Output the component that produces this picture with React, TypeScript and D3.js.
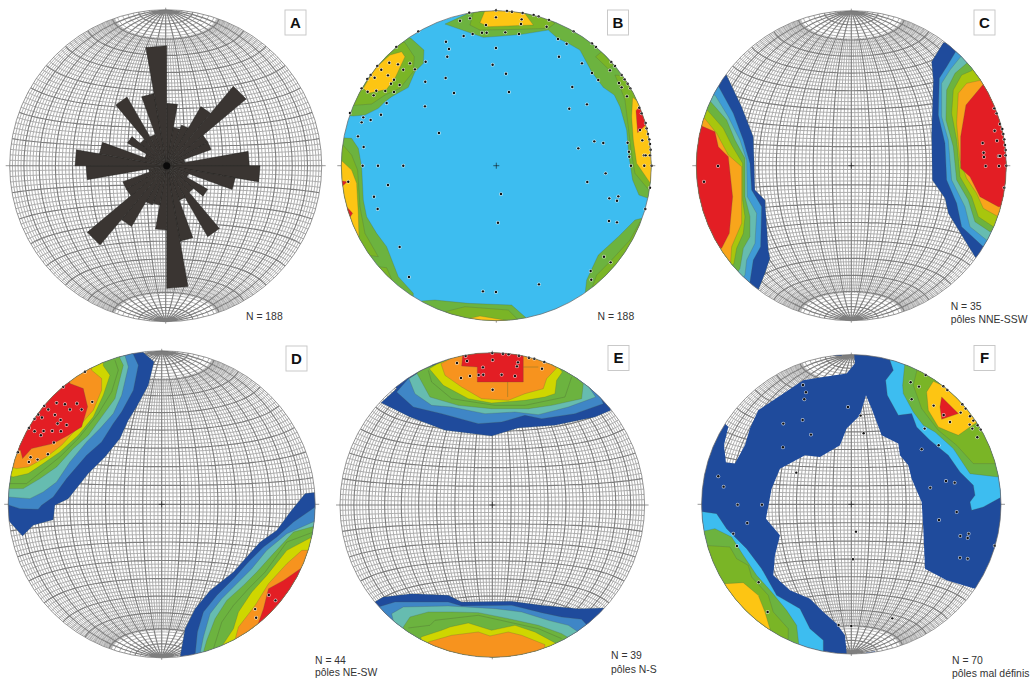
import React from "react";
import * as d3 from "d3";

type P = [number, number];

const SKY = "#3dbdf0", NAVY = "#1f4b9c", BLUE_C = "#3f9bd6", BLUE_D = "#3f86c6", TEAL = "#66bcb0";
const GREEN = "#6cb33f", LIME_B = "#7ab526", YGREEN_C = "#a8c60d", YGREEN_D = "#cfd600", ORANGE_C = "#f8a51b", ORANGE_D = "#f7931e", YELLOW = "#fdc513", RED = "#e31e24";

const roseLengths = [187,116,130,205,311,142,142,55,248,280,209,70,142,105,246,110,230,368,193,120,125,211,311,140,140,55,242,275,205,70,136,104,238,100,220,360];

const bGreenTop: P[] = [[395,25],[395,42],[330,72],[410,100],[445,112],[500,108],[560,103],[640,90],[668,115],[700,130],[735,150],[770,215],[805,262],[838,285],[855,320],[875,390],[882,470],[893,540],[912,585],[940,595],[1000,600],[1000,300],[800,80],[560,10]];
const bLimeNE: P[] = [[782,170],[800,155],[835,195],[820,207]];
const bLimeE: P[] = [[840,225],[858,268],[870,300],[880,380],[888,450],[900,520],[940,568],[990,570],[990,300],[900,230]];
const bYellowE: P[] = [[893,292],[890,350],[895,420],[905,490],[945,548],[990,540],[990,380],[930,320]];
const bRedE: P[] = [[903,332],[915,318],[935,372],[908,398]];
const bLimeTop: P[] = [[420,20],[405,75],[435,90],[550,88],[640,85],[660,70],[590,20]];
const bYellowTop: P[] = [[455,20],[435,68],[460,80],[595,75],[555,20]];
const bGreenNW: P[] = [[20,345],[55,348],[90,345],[130,325],[150,305],[170,290],[220,262],[240,215],[265,190],[267,150],[228,115],[190,100],[0,280]];
const bLimeNW: P[] = [[30,318],[110,312],[150,285],[195,265],[235,215],[238,170],[210,128],[170,110],[20,280]];
const bYellowNW: P[] = [[85,265],[100,280],[155,268],[180,235],[210,170],[200,155],[165,165],[120,205]];
const bGreenW: P[] = [[0,412],[50,415],[70,445],[80,500],[85,600],[95,650],[125,700],[155,740],[190,830],[235,880],[235,900],[100,900],[0,700]];
const bLimeW: P[] = [[0,430],[20,430],[50,465],[68,510],[75,620],[90,700],[130,770],[60,760],[0,700]];
const bLimeSW: P[] = [[130,800],[155,803],[172,842],[110,850]];
const bYellowW: P[] = [[0,480],[18,480],[50,510],[65,550],[70,640],[72,710],[0,720]];
const bRedW1: P[] = [[0,540],[37,545],[18,562],[0,560]];
const bRedW2: P[] = [[35,620],[53,640],[45,652]];
const bGreenSE: P[] = [[750,885],[755,840],[790,765],[850,710],[900,660],[920,655],[1000,660],[1000,1000],[800,920]];
const bLimeSE: P[] = [[763,885],[785,825],[825,785],[885,720],[915,665],[960,670],[960,960],[800,960]];
const bGreenS: P[] = [[260,903],[300,900],[400,910],[530,915],[575,955],[500,1010],[350,1010]];
const bLimeS: P[] = [[330,935],[390,920],[520,930],[550,960],[400,1010]];
const bYellowS: P[] = [[405,955],[435,948],[520,962],[500,1010],[420,1010]];
const bPoles: P[] = [[483,31],[516,33],[531,35],[563,39],[596,45],[611,49],[642,60],[716,94],[771,130],[783,141],[829,186],[840,198],[860,225],[869,238],[878,251],[886,265],[913,323],[920,340],[932,369],[935,385],[939,402],[943,418],[945,432],[947,449],[945,466],[950,497],[945,563],[931,627],[403,38],[405,55],[375,62],[483,52],[453,75],[560,58],[558,72],[635,80],[413,102],[441,98],[455,98],[511,97],[552,102],[386,108],[669,117],[695,131],[333,125],[342,147],[337,170],[483,144],[473,194],[513,221],[522,276],[332,234],[357,279],[272,185],[240,208],[225,190],[271,245],[270,319],[312,399],[250,94],[184,141],[163,188],[189,193],[205,209],[127,198],[139,209],[107,225],[97,237],[119,233],[159,226],[177,239],[168,251],[194,255],[80,265],[98,275],[124,272],[151,273],[177,276],[116,286],[155,309],[45,339],[85,352],[107,360],[80,367],[138,344],[69,409],[86,441],[83,497],[129,497],[205,497],[40,545],[159,555],[117,590],[128,627],[194,741],[222,831],[444,874],[483,876],[612,853],[498,582],[489,668],[672,170],[741,190],[771,219],[825,211],[790,240],[712,261],[703,326],[756,313],[852,249],[860,262],[876,289],[778,424],[805,429],[730,445],[878,428],[882,455],[883,470],[888,497],[922,421],[927,466],[932,466],[928,497],[915,390],[812,520],[757,546],[850,589],[823,595],[846,602],[822,663],[846,667],[807,770],[827,787],[767,813],[769,839]];

const cNavyE: P[] = [[760,128],[725,185],[730,240],[725,400],[727,540],[765,595],[775,640],[830,730],[860,778],[1000,650],[1000,300],[860,100]];
const cBlueE: P[] = [[797,155],[770,200],[748,235],[745,345],[765,430],[770,540],[800,610],[815,680],[885,745],[1000,650],[1000,300],[860,120]];
const cTealE: P[] = [[812,170],[780,210],[755,250],[755,350],[775,420],[785,540],[825,620],[840,680],[890,720],[1000,650],[1000,300],[860,130]];
const cGreenE: P[] = [[830,190],[795,220],[770,270],[768,360],[790,440],[800,540],[835,600],[855,665],[900,695],[1000,650],[1000,300],[860,150]];
const cLimeE: P[] = [[845,212],[815,225],[790,270],[785,340],[800,420],[810,530],[845,590],[865,650],[910,680],[1000,650],[1000,300],[880,170]];
const cOrangeE: P[] = [[875,240],[830,250],[805,280],[800,370],[810,480],[830,535],[860,580],[880,625],[925,650],[1000,650],[1000,300],[900,200]];
const cRedE: P[] = [[878,255],[828,315],[812,410],[812,505],[840,530],[870,590],[925,620],[1000,620],[1000,300],[920,250]];
const cNavyW: P[] = [[108,222],[155,320],[190,410],[195,570],[225,600],[235,750],[240,775],[225,820],[205,870],[180,900],[0,700],[0,300],[80,200]];
const cBlueW: P[] = [[85,258],[130,340],[160,420],[180,490],[185,570],[215,620],[212,740],[190,780],[180,845],[160,880],[0,700],[0,300]];
const cTealW: P[] = [[75,285],[115,350],[150,420],[170,480],[172,590],[200,640],[195,730],[170,780],[165,825],[140,860],[0,700],[0,300]];
const cGreenW: P[] = [[62,305],[110,360],[135,420],[165,475],[165,590],[180,650],[180,710],[160,745],[150,805],[130,840],[0,700],[0,300]];
const cLimeW: P[] = [[52,330],[100,385],[125,435],[158,490],[158,600],[165,650],[160,700],[140,745],[132,790],[110,820],[0,700],[0,320]];
const cOrangeW: P[] = [[40,350],[80,400],[115,465],[155,500],[155,610],[155,670],[125,740],[122,785],[100,810],[0,700],[0,340]];
const cRedW: P[] = [[35,378],[75,395],[85,440],[115,470],[128,590],[118,700],[95,745],[60,730],[0,700],[0,380]];
const cPoles: P[] = [[913,325],[920,340],[930,372],[937,387],[940,402],[943,418],[945,435],[947,450],[947,466],[949,497],[943,563],[914,392],[921,422],[878,429],[881,458],[882,471],[887,498],[926,468],[930,468],[927,498],[84,498],[42,545]];

const dNavyNW: P[] = [[430,20],[430,32],[462,60],[445,130],[410,195],[385,235],[360,290],[315,345],[265,395],[205,470],[165,490],[160,533],[100,550],[68,582],[25,535],[-20,500],[-20,300],[180,60]];
const dBlueNW: P[] = [[400,20],[400,38],[415,70],[400,145],[365,210],[340,245],[305,300],[260,340],[200,410],[160,465],[125,490],[115,502],[60,500],[28,490],[-20,480],[-20,300],[180,60]];
const dTealNW: P[] = [[375,20],[375,42],[385,75],[365,160],[340,215],[300,260],[260,300],[210,360],[170,420],[130,450],[90,470],[25,465],[-20,465],[-20,300],[180,60]];
const dGreenNW: P[] = [[360,20],[360,50],[370,70],[345,170],[305,225],[265,280],[220,320],[170,375],[120,410],[70,440],[25,440],[-20,430],[-20,300],[180,60]];
const dYGreenNW: P[] = [[310,50],[310,72],[330,100],[310,160],[280,225],[235,280],[180,330],[130,365],[85,395],[40,405],[20,400],[-10,300],[180,60]];
const dOrangeNW: P[] = [[275,60],[275,85],[305,110],[305,145],[280,205],[240,250],[185,310],[140,345],[85,375],[50,380],[30,375],[-10,300],[180,80]];
const dRedNW: P[] = [[205,100],[210,125],[250,140],[263,195],[245,255],[205,280],[160,305],[95,320],[68,350],[62,325],[30,330],[30,200],[120,100]];
const dLineNW: P[] = [[345,55],[355,85],[335,150],[295,215],[235,290],[180,345],[130,385],[80,425],[28,425]];
const dNavySE: P[] = [[540,945],[555,860],[585,800],[630,745],[700,690],[735,650],[780,600],[830,565],[870,510],[915,455],[1000,445],[1000,700],[700,1000],[540,1000]];
const dBlueSE: P[] = [[585,940],[592,870],[610,810],[650,760],[700,710],[745,660],[790,615],[830,585],[880,540],[945,495],[1000,490],[1000,700],[700,1000],[590,1000]];
const dTealSE: P[] = [[600,935],[610,885],[630,815],[665,770],[715,720],[755,680],[800,625],[860,575],[945,537],[1000,530],[1000,700],[700,1000],[600,1000]];
const dGreenSE: P[] = [[610,930],[620,895],[645,830],[680,775],[730,730],[770,690],[815,640],[880,570],[945,552],[1000,550],[1000,700],[700,1000],[610,1000]];
const dYGreenSE: P[] = [[668,908],[700,860],[715,810],[755,750],[800,700],[860,625],[935,585],[1000,580],[1000,700],[700,1000]];
const dOrangeSE: P[] = [[705,892],[715,855],[765,790],[805,725],[860,665],[905,625],[930,625],[1000,620],[1000,700],[720,1000]];
const dRedSE: P[] = [[775,842],[790,800],[805,740],[850,715],[908,675],[1000,680],[800,900]];
const dLineSE: P[] = [[640,920],[665,840],[700,790],[745,740],[795,690],[860,600],[940,570]];
const dPoles: P[] = [[255,90],[190,135],[277,180],[170,183],[195,187],[231,185],[133,192],[145,203],[210,203],[245,203],[115,218],[165,219],[126,227],[104,231],[182,234],[173,245],[200,249],[87,258],[104,268],[131,267],[157,267],[183,268],[123,280],[162,302],[54,331],[144,337],[92,346],[113,353],[87,360],[806,759],[826,775],[765,801],[768,827]];

const eNavyN: P[] = [[185,140],[138,182],[225,225],[330,265],[470,282],[550,258],[660,250],[780,225],[828,205],[800,100],[470,0],[150,100]];
const eBlueN: P[] = [[220,110],[185,150],[235,195],[320,215],[430,245],[500,240],[570,220],[620,230],[720,215],[805,185],[770,100],[470,0]];
const eTealN: P[] = [[245,95],[222,110],[240,155],[290,190],[350,195],[450,215],[540,210],[610,218],[700,195],[782,165],[745,110],[470,0]];
const eGreenN: P[] = [[265,82],[245,92],[285,165],[370,190],[470,200],[580,200],[650,190],[740,170],[745,125],[680,70],[470,0]];
const eYGreenN: P[] = [[305,67],[283,80],[325,130],[400,170],[470,183],[570,175],[630,165],[660,155],[665,115],[682,90],[650,50],[470,0]];
const eOrangeN: P[] = [[385,30],[318,65],[330,100],[380,135],[440,170],[520,175],[570,155],[625,140],[635,110],[665,78],[600,30],[470,0]];
const eRedN: P[] = [[385,20],[380,72],[427,75],[427,120],[565,120],[565,20]];
const eLineN: P[] = [[280,85],[290,120],[350,170],[480,190],[570,190],[690,165],[710,105]];
const eTickA: P[] = [[518,120],[518,165]];
const eTickB: P[] = [[565,75],[610,75]];
const eNavyS: P[] = [[145,765],[110,785],[200,960],[470,1020],[760,960],[850,800],[808,798],[730,800],[620,790],[530,778],[380,780],[340,760],[230,755]];
const eBlueS: P[] = [[130,795],[180,780],[340,780],[380,792],[530,790],[620,812],[680,825],[740,832],[755,848],[720,900],[470,1010],[200,940]];
const eTealS: P[] = [[170,815],[205,795],[340,792],[480,800],[560,810],[640,835],[700,850],[730,870],[715,900],[470,1010],[200,940]];
const eGreenS: P[] = [[205,855],[225,825],[280,810],[350,810],[430,812],[520,830],[610,850],[680,875],[705,890],[470,1010],[210,900]];
const eLineS: P[] = [[220,858],[285,850],[300,835],[430,820],[520,840],[610,860],[680,890]];
const eYGreenS: P[] = [[258,885],[320,865],[345,855],[400,843],[470,865],[540,850],[600,870],[665,905],[470,1010],[260,920]];
const eOrangeS: P[] = [[280,900],[350,880],[430,870],[465,882],[520,870],[560,880],[630,908],[628,925],[470,1010],[300,950]];
const ePoles: P[] = [[392,42],[472,33],[504,35],[521,37],[552,41],[582,47],[598,50],[628,60],[396,57],[366,63],[473,54],[549,61],[546,73],[621,80],[444,76],[378,108],[405,102],[431,99],[445,98],[500,98],[540,102],[473,143]];

const fFrame: P[] = [[-40,-40],[1060,-40],[1060,1060],[-40,1060]];
const fHoleCentre: P[] = [[528,160],[545,200],[575,280],[625,305],[630,340],[655,370],[665,410],[695,480],[700,560],[705,680],[770,715],[855,740],[880,800],[700,950],[560,950],[555,928],[525,933],[510,960],[465,960],[470,935],[465,880],[440,845],[400,810],[360,770],[300,745],[250,700],[255,640],[270,580],[228,530],[245,440],[270,380],[345,340],[390,345],[450,310],[470,260],[510,220]];
const fHoleNorth: P[] = [[492,30],[495,65],[470,95],[400,105],[340,115],[250,175],[205,205],[180,260],[165,310],[135,365],[108,362],[102,310],[115,255],[105,245],[90,230],[250,95],[350,45],[425,30],[430,42],[455,42],[457,30]];
const fSkyNE: P[] = [[598,50],[610,85],[587,115],[592,160],[625,220],[665,215],[680,255],[720,295],[775,340],[810,390],[850,430],[855,460],[840,480],[845,505],[880,495],[935,465],[1000,450],[1000,200],[700,20]];
const fGreenNE: P[] = [[645,60],[638,130],[640,155],[670,210],[700,250],[735,270],[790,320],[840,395],[925,405],[1000,300],[700,20]];
const fLimeNE: P[] = [[682,80],[670,130],[695,200],[745,265],[800,310],[850,365],[915,365],[1000,300],[730,30]];
const fYellowNE: P[] = [[730,118],[710,150],[715,205],[745,255],[775,268],[805,280],[840,255],[870,235],[800,150]];
const fRedNE: P[] = [[755,165],[805,215],[755,232],[750,195]];
const fSkySW: P[] = [[20,507],[80,515],[110,560],[170,620],[215,680],[260,760],[330,800],[360,860],[400,895],[400,960],[100,860],[0,600]];
const fGreenSW: P[] = [[30,570],[75,560],[125,585],[160,640],[200,700],[245,750],[290,805],[320,850],[328,920],[100,860],[0,600]];
const fLimeSW: P[] = [[40,610],[120,615],[140,650],[175,670],[185,705],[235,760],[250,810],[295,860],[295,910],[100,860],[20,640]];
const fYellowSW: P[] = [[105,725],[160,722],[205,760],[225,810],[240,860],[235,900],[60,800]];
const fPoles: P[] = [[339,129],[348,151],[343,172],[474,195],[512,221],[521,274],[280,245],[338,234],[363,278],[279,316],[319,392],[85,403],[101,434],[143,488],[216,488],[172,543],[130,575],[141,612],[206,721],[233,810],[446,849],[484,852],[607,829],[498,569],[489,652],[707,99],[662,121],[687,134],[760,133],[772,144],[665,172],[731,191],[817,187],[827,200],[761,219],[812,212],[840,223],[850,236],[839,248],[863,250],[872,263],[847,260],[862,286],[780,240],[704,260],[746,310],[695,322],[768,417],[794,422],[721,437],[800,510],[747,534],[836,575],[811,582],[833,588],[914,611],[810,647],[833,650]];

type Layer = { fill: string; pts: P[] };
type Panel = {
  id: string; cx: number; cy: number; r: number; dx: number; dy: number; dr: number;
  box: P; grid: boolean; base?: string; layers: Layer[]; lines: P[][]; poles: P[];
  navyPaths?: P[][]; notes: { x: number; y: number; text: string }[];
};

const panels: Panel[] = [
  { id: "A", cx: 165.7, cy: 165.7, r: 156, dx: 497, dy: 497, dr: 468, box: [285, 10], grid: true, layers: [], lines: [], poles: [],
    notes: [{ x: 246, y: 320, text: "N = 188" }] },
  { id: "B", cx: 496.3, cy: 165.7, r: 155, dx: 484, dy: 497, dr: 465, box: [607.5, 10], grid: false, base: SKY, poles: bPoles, lines: [],
    layers: [
      { fill: GREEN, pts: bGreenTop }, { fill: LIME_B, pts: bLimeNE }, { fill: LIME_B, pts: bLimeE }, { fill: YELLOW, pts: bYellowE }, { fill: RED, pts: bRedE },
      { fill: LIME_B, pts: bLimeTop }, { fill: YELLOW, pts: bYellowTop },
      { fill: GREEN, pts: bGreenNW }, { fill: LIME_B, pts: bLimeNW }, { fill: YELLOW, pts: bYellowNW },
      { fill: GREEN, pts: bGreenW }, { fill: LIME_B, pts: bLimeW }, { fill: LIME_B, pts: bLimeSW }, { fill: YELLOW, pts: bYellowW }, { fill: RED, pts: bRedW1 }, { fill: RED, pts: bRedW2 },
      { fill: GREEN, pts: bGreenSE }, { fill: LIME_B, pts: bLimeSE },
      { fill: GREEN, pts: bGreenS }, { fill: LIME_B, pts: bLimeS }, { fill: YELLOW, pts: bYellowS },
    ], notes: [{ x: 597.5, y: 320, text: "N = 188" }] },
  { id: "C", cx: 851.3, cy: 165.7, r: 155, dx: 484, dy: 497, dr: 465, box: [974, 10], grid: true, poles: cPoles, lines: [],
    layers: [
      { fill: NAVY, pts: cNavyE }, { fill: BLUE_C, pts: cBlueE }, { fill: TEAL, pts: cTealE }, { fill: GREEN, pts: cGreenE }, { fill: YGREEN_C, pts: cLimeE }, { fill: ORANGE_C, pts: cOrangeE }, { fill: RED, pts: cRedE },
      { fill: NAVY, pts: cNavyW }, { fill: BLUE_C, pts: cBlueW }, { fill: TEAL, pts: cTealW }, { fill: GREEN, pts: cGreenW }, { fill: YGREEN_C, pts: cLimeW }, { fill: ORANGE_C, pts: cOrangeW }, { fill: RED, pts: cRedW },
    ], notes: [{ x: 950.7, y: 310, text: "N = 35" }, { x: 950.7, y: 323, text: "pôles NNE-SSW" }] },
  { id: "D", cx: 161.7, cy: 504.3, r: 153.5, dx: 485, dy: 487, dr: 460, box: [286, 346], grid: true, poles: dPoles, lines: [dLineNW, dLineSE],
    layers: [
      { fill: NAVY, pts: dNavyNW }, { fill: BLUE_D, pts: dBlueNW }, { fill: TEAL, pts: dTealNW }, { fill: GREEN, pts: dGreenNW }, { fill: YGREEN_D, pts: dYGreenNW }, { fill: ORANGE_D, pts: dOrangeNW }, { fill: RED, pts: dRedNW },
      { fill: NAVY, pts: dNavySE }, { fill: BLUE_D, pts: dBlueSE }, { fill: TEAL, pts: dTealSE }, { fill: GREEN, pts: dGreenSE }, { fill: YGREEN_D, pts: dYGreenSE }, { fill: ORANGE_D, pts: dOrangeSE }, { fill: RED, pts: dRedSE },
    ], notes: [{ x: 315, y: 664, text: "N = 44" }, { x: 315, y: 676, text: "pôles NE-SW" }] },
  { id: "E", cx: 492.3, cy: 505, r: 152.3, dx: 472, dy: 489, dr: 457, box: [608, 345.5], grid: true, poles: ePoles, lines: [eLineN, eLineS, eTickA, eTickB],
    layers: [
      { fill: NAVY, pts: eNavyN }, { fill: BLUE_D, pts: eBlueN }, { fill: TEAL, pts: eTealN }, { fill: GREEN, pts: eGreenN }, { fill: YGREEN_D, pts: eYGreenN }, { fill: ORANGE_D, pts: eOrangeN }, { fill: RED, pts: eRedN },
      { fill: NAVY, pts: eNavyS }, { fill: BLUE_D, pts: eBlueS }, { fill: TEAL, pts: eTealS }, { fill: GREEN, pts: eGreenS }, { fill: YGREEN_D, pts: eYGreenS }, { fill: ORANGE_D, pts: eOrangeS },
    ], notes: [{ x: 611, y: 659, text: "N = 39" }, { x: 611, y: 673, text: "pôles N-S" }] },
  { id: "F", cx: 851.3, cy: 504.3, r: 149.7, dx: 484, dy: 487, dr: 449, box: [974, 345.5], grid: true, poles: fPoles, lines: [],
    navyPaths: [fFrame, fHoleCentre, fHoleNorth],
    layers: [
      { fill: SKY, pts: fSkyNE }, { fill: GREEN, pts: fGreenNE }, { fill: LIME_B, pts: fLimeNE }, { fill: YELLOW, pts: fYellowNE }, { fill: RED, pts: fRedNE },
      { fill: SKY, pts: fSkySW }, { fill: GREEN, pts: fGreenSW }, { fill: LIME_B, pts: fLimeSW }, { fill: YELLOW, pts: fYellowSW },
    ], notes: [{ x: 952, y: 664, text: "N = 70" }, { x: 952, y: 677, text: "pôles mal définis" }] },
];

const minorStep = 2, majorStep = 10, capLat = 71;

function netPaths(cx: number, cy: number, r: number) {
  const proj = d3.geoAzimuthalEqualArea().rotate([0, 0]).clipAngle(90).scale(r / Math.SQRT2).translate([cx, cy]).precision(0.3);
  const path = d3.geoPath(proj);
  const minor: number[][][] = [], major: number[][][] = [];
  const span = (a: number, b: number, n = 36) => d3.range(n + 1).map((i) => a + ((b - a) * i) / n);
  for (const lon of d3.range(-90, 90.01, minorStep)) {
    const isMajor = lon % majorStep === 0;
    const top = isMajor ? 89.9 : capLat;
    (isMajor ? major : minor).push(span(-top, top).map((la) => [lon, la]));
  }
  for (const lat of d3.range(-88, 88.01, minorStep)) {
    const isMajor = lat % majorStep === 0;
    (isMajor ? major : minor).push(span(-89.9, 89.9).map((lo) => [lo, lat]));
  }
  const paths = (list: number[][][]) => list.map((coordinates) => path({ type: "LineString", coordinates } as any) || "").join("");
  return { minor: paths(minor), major: paths(major) };
}

function Net({ p }: { p: Panel }) {
  const x = d3.scaleLinear().domain([p.dx - p.dr, p.dx + p.dr]).range([p.cx - p.r, p.cx + p.r]);
  const y = d3.scaleLinear().domain([p.dy - p.dr, p.dy + p.dr]).range([p.cy - p.r, p.cy + p.r]);
  const closed = d3.line<P>().x((d) => x(d[0])).y((d) => y(d[1])).curve(d3.curveLinearClosed);
  const open = d3.line<P>().x((d) => x(d[0])).y((d) => y(d[1]));
  const net = p.grid ? netPaths(p.cx, p.cy, p.r) : null;
  const clipId = `disc-${p.id}`;
  const t = 4;
  return (
    <g>
      <defs>
        <clipPath id={clipId}><circle cx={p.cx} cy={p.cy} r={p.r} /></clipPath>
      </defs>
      <circle cx={p.cx} cy={p.cy} r={p.r} fill={p.base ?? "#fff"} />
      {net && (
        <g fill="none" clipPath={`url(#${clipId})`}>
          <path d={net.minor} stroke="#ababab" strokeWidth={0.95} />
          <path d={net.major} stroke="#7e7e7e" strokeWidth={1.15} />
        </g>
      )}
      <g clipPath={`url(#${clipId})`}>
        {p.navyPaths && (
          <path d={p.navyPaths.map((h) => closed(h)).join("")} fill={NAVY} fillRule="evenodd" />
        )}
        {p.layers.map((l, i) => (
          <path key={i} d={closed(l.pts) || ""} fill={l.fill} stroke="#4d5a45" strokeOpacity={0.6} strokeWidth={0.4} />
        ))}
        {p.lines.map((l, i) => (
          <path key={i} d={open(l) || ""} fill="none" stroke="#4d6b35" strokeOpacity={0.7} strokeWidth={0.5} />
        ))}
      </g>
      {p.id === "A" && <Rose x={x} y={y} />}
      {p.poles.map((d, i) => (
        <g key={i}>
          <circle cx={x(d[0])} cy={y(d[1])} r={1.9} fill="#fff" fillOpacity={0.7} />
          <circle cx={x(d[0])} cy={y(d[1])} r={1.2} fill="#111" />
        </g>
      ))}
      <circle cx={p.cx} cy={p.cy} r={p.r} fill="none" stroke="#666" strokeWidth={0.7} />
      <g stroke="#555" strokeWidth={0.6}>
        <line x1={p.cx - p.r - t} x2={p.cx - p.r} y1={p.cy} y2={p.cy} />
        <line x1={p.cx + p.r} x2={p.cx + p.r + t} y1={p.cy} y2={p.cy} />
        <line x1={p.cx} x2={p.cx} y1={p.cy - p.r - 2} y2={p.cy - p.r} />
        <line x1={p.cx} x2={p.cx} y1={p.cy + p.r} y2={p.cy + p.r + 2} />
        {p.id !== "A" && <line x1={p.cx - 3} x2={p.cx + 3} y1={p.cy} y2={p.cy} stroke="#111" />}
        {p.id !== "A" && <line x1={p.cx} x2={p.cx} y1={p.cy - 3} y2={p.cy + 3} stroke="#111" />}
      </g>
      <rect x={p.box[0]} y={p.box[1]} width={21} height={25} fill="#fff" stroke="#c4c4c4" strokeWidth={0.9} />
      <text x={p.box[0] + 10.5} y={p.box[1] + 17.5} textAnchor="middle" fontFamily="'Liberation Sans', Arial, sans-serif" fontWeight="bold" fontSize={15} fill="#111">{p.id}</text>
      {p.notes.map((n, i) => (
        <text key={i} x={n.x} y={n.y} fontFamily="'Liberation Sans', Arial, sans-serif" fontSize={10.4} fill="#333">{n.text}</text>
      ))}
    </g>
  );
}

function Rose({ x, y }: { x: any; y: any }) {
  const len = d3.scaleLinear().domain([0, 468]).range([0, 156]);
  const cx = x(500), cy = y(497);
  const width = 360 / roseLengths.length;
  return (
    <g transform={`translate(${cx},${cy})`}>
      {roseLengths.map((v, i) => {
        const a0 = i * width;
        const rad = len(v);
        const d = d3.lineRadial<[number, number]>()
          .angle((q) => (q[0] * Math.PI) / 180)
          .radius((q) => q[1])
          .curve(d3.curveLinearClosed)([[a0, 0], [a0, rad], [a0 + width, rad]]);
        return <path key={i} d={d || ""} fill="#3a3532" stroke="#1a1816" strokeWidth={0.4} />;
      })}
      <circle r={3.5} fill="#0a0a0a" />
    </g>
  );
}

export default function App() {
  return (
    <svg width={1031} height={682} viewBox="0 0 1031 682" style={{ position: "absolute", left: 0, top: 0, background: "#fff" }}>
      <rect width={1031} height={682} fill="#fff" />
      <g>{panels.map((p) => <Net key={p.id} p={p} />)}</g>
    </svg>
  );
}
